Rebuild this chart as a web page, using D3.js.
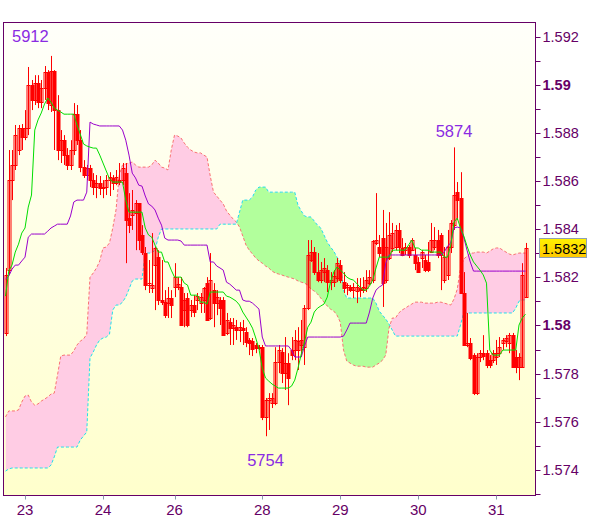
<!DOCTYPE html>
<html><head><meta charset="utf-8">
<script src="https://cdn.jsdelivr.net/npm/d3@7"></script>
<style>body{margin:0;background:#fff}svg{display:block}</style>
</head><body>
<svg id="c" width="600" height="519"></svg>
<script>
const dayLabels = ["23","24","26","28","29","30","31"];
const dayIndex = [6,30,52,79,103,127,151];
const priceTicks = [1.574,1.576,1.578,1.58,1.582,1.584,1.586,1.588,1.59,1.592];
const priceTickLabels = ["1.574","1.576","1.578","1.58","1.582","1.584","1.586","1.588","1.59","1.592"];
const boldTicks = ["1.58","1.59"];
const lastPrice = 1.5832;
const extremeLabels = ["5912","5874","5754"];

const openP = [1.57969,1.58230,1.58604,1.58667,1.58729,1.58820,1.58783,1.58820,1.58999,1.58937,
1.59007,1.58928,1.58986,1.59053,1.58916,1.59057,1.58895,1.58729,1.58770,1.58708,
1.58667,1.58729,1.58878,1.58770,1.58658,1.58625,1.58654,1.58604,1.58575,1.58592,
1.58571,1.58575,1.58604,1.58613,1.58592,1.58604,1.58604,1.58633,1.58446,1.58459,
1.58467,1.58509,1.58376,1.58301,1.58168,1.58156,1.58251,1.58284,1.58106,1.58097,
1.58093,1.58114,1.58160,1.58160,1.58160,1.58064,1.58114,1.58064,1.58085,1.58106,
1.58093,1.58106,1.58176,1.58031,1.58147,1.58093,1.58106,1.58106,1.57969,1.58014,
1.57989,1.57993,1.57981,1.57989,1.57973,1.57940,1.57935,1.57919,1.57906,1.57910,
1.57620,1.57690,1.57678,1.57678,1.57848,1.57890,1.57802,1.57844,1.57898,1.57898,
1.57898,1.57919,1.57910,1.58072,1.58272,1.58305,1.58222,1.58189,1.58222,1.58230,
1.58180,1.58180,1.58197,1.58251,1.58180,1.58160,1.58160,1.58147,1.58143,1.58156,
1.58147,1.58156,1.58176,1.58189,1.58343,1.58326,1.58363,1.58189,1.58280,1.58322,
1.58326,1.58397,1.58322,1.58313,1.58326,1.58313,1.58293,1.58264,1.58280,1.58272,
1.58264,1.58305,1.58326,1.58355,1.58376,1.58189,1.58210,1.58326,1.58417,1.58554,
1.58529,1.58135,1.57919,1.57927,1.57877,1.57719,1.57869,1.57885,1.57885,1.57856,
1.57856,1.57869,1.57885,1.57927,1.57935,1.57927,1.57960,1.57869,1.57827,1.57827,
1.58118];
const highP = [1.58239,1.58729,1.58729,1.58833,1.58833,1.58837,1.58895,1.59074,1.59020,1.59040,
1.59040,1.59020,1.59078,1.59061,1.59120,1.59061,1.58957,1.58812,1.58791,1.58737,
1.58770,1.58924,1.58916,1.58812,1.58687,1.58667,1.58667,1.58633,1.58625,1.58621,
1.58604,1.58625,1.58637,1.58625,1.58646,1.58675,1.58675,1.58675,1.58550,1.58563,
1.58521,1.58509,1.58417,1.58326,1.58272,1.58384,1.58326,1.58313,1.58272,1.58147,
1.58160,1.58147,1.58259,1.58201,1.58201,1.58135,1.58135,1.58106,1.58126,1.58135,
1.58135,1.58160,1.58201,1.58301,1.58176,1.58147,1.58118,1.58118,1.58052,1.58031,
1.58031,1.58023,1.58014,1.58023,1.57993,1.57948,1.57948,1.57927,1.57919,1.57919,
1.57699,1.57719,1.57719,1.57910,1.57919,1.57906,1.57952,1.57885,1.57952,1.57981,
1.57993,1.58023,1.58085,1.58355,1.58355,1.58326,1.58301,1.58264,1.58280,1.58251,
1.58222,1.58230,1.58280,1.58272,1.58222,1.58176,1.58168,1.58176,1.58197,1.58197,
1.58201,1.58230,1.58230,1.58355,1.58550,1.58376,1.58480,1.58426,1.58471,1.58426,
1.58417,1.58426,1.58363,1.58343,1.58334,1.58363,1.58322,1.58284,1.58313,1.58293,
1.58347,1.58426,1.58409,1.58397,1.58384,1.58326,1.58397,1.58438,1.58740,1.58596,
1.58637,1.58222,1.58052,1.57948,1.57885,1.57885,1.57898,1.57960,1.57898,1.57877,
1.57898,1.57940,1.57952,1.57948,1.57960,1.57969,1.57969,1.57898,1.57885,1.58259,
1.58343];
const lowP = [1.57956,1.58210,1.58521,1.58646,1.58708,1.58729,1.58770,1.58791,1.58895,1.58916,
1.58903,1.58903,1.58937,1.58895,1.58887,1.58729,1.58687,1.58675,1.58667,1.58646,
1.58646,1.58708,1.58750,1.58637,1.58613,1.58604,1.58575,1.58542,1.58529,1.58542,
1.58529,1.58542,1.58538,1.58563,1.58583,1.58583,1.58583,1.58259,1.58384,1.58397,
1.58313,1.58313,1.58293,1.58147,1.58135,1.58135,1.58064,1.58085,1.58085,1.58031,
1.58031,1.58031,1.58118,1.58147,1.57998,1.57993,1.57993,1.58035,1.58035,1.58064,
1.58052,1.58052,1.58023,1.58023,1.57993,1.58043,1.58002,1.57960,1.57960,1.57919,
1.57919,1.57940,1.57931,1.57919,1.57910,1.57877,1.57873,1.57885,1.57898,1.57607,
1.57540,1.57566,1.57657,1.57669,1.57802,1.57761,1.57732,1.57669,1.57856,1.57856,
1.57815,1.57869,1.57836,1.58064,1.58264,1.58210,1.58180,1.58176,1.58180,1.58139,
1.58147,1.58160,1.58180,1.58176,1.58135,1.58126,1.58139,1.58114,1.58093,1.58118,
1.58135,1.58139,1.58168,1.58176,1.58334,1.58284,1.58077,1.58176,1.58272,1.58305,
1.58313,1.58301,1.58288,1.58293,1.58280,1.58309,1.58230,1.58218,1.58239,1.58222,
1.58222,1.58301,1.58313,1.58280,1.58147,1.58176,1.58189,1.58301,1.58397,1.58438,
1.58135,1.57919,1.57910,1.57856,1.57711,1.57711,1.57848,1.57856,1.57823,1.57823,
1.57844,1.57836,1.57869,1.57898,1.57910,1.57885,1.57827,1.57802,1.57773,1.57827,
1.58114];
const closeP = [1.58210,1.58604,1.58667,1.58791,1.58820,1.58783,1.58820,1.58999,1.58937,1.59007,
1.58928,1.58986,1.59053,1.58924,1.59057,1.58895,1.58729,1.58770,1.58708,1.58667,
1.58729,1.58878,1.58770,1.58658,1.58625,1.58654,1.58604,1.58575,1.58592,1.58571,
1.58575,1.58604,1.58617,1.58592,1.58617,1.58596,1.58654,1.58438,1.58417,1.58480,
1.58509,1.58355,1.58305,1.58168,1.58176,1.58168,1.58322,1.58106,1.58097,1.58043,
1.58114,1.58085,1.58201,1.58172,1.58002,1.58106,1.58002,1.58085,1.58056,1.58122,
1.58118,1.58156,1.58023,1.58189,1.58093,1.58118,1.58072,1.57960,1.58023,1.57989,
1.58002,1.57981,1.57993,1.57981,1.57931,1.57927,1.57902,1.57906,1.57910,1.57620,
1.57690,1.57699,1.57699,1.57848,1.57898,1.57802,1.57844,1.57782,1.57877,1.57940,
1.57935,1.57940,1.58072,1.58293,1.58305,1.58222,1.58189,1.58230,1.58239,1.58180,
1.58189,1.58205,1.58259,1.58189,1.58156,1.58168,1.58147,1.58160,1.58160,1.58147,
1.58160,1.58189,1.58201,1.58351,1.58355,1.58301,1.58176,1.58326,1.58376,1.58384,
1.58397,1.58326,1.58293,1.58326,1.58293,1.58355,1.58259,1.58222,1.58305,1.58230,
1.58230,1.58355,1.58355,1.58293,1.58293,1.58284,1.58326,1.58426,1.58542,1.58521,
1.58135,1.57919,1.57927,1.57865,1.57719,1.57869,1.57885,1.57873,1.57836,1.57836,
1.57885,1.57885,1.57910,1.57940,1.57948,1.57960,1.57827,1.57827,1.57869,1.58210,
1.58320];
const tenkan = [1.58122,1.58226,1.58251,1.58305,1.58338,1.58384,1.58405,1.58492,1.58542,1.58812,
1.58854,1.58883,1.58920,1.58945,1.58928,1.58903,1.58895,1.58887,1.58878,1.58878,
1.58878,1.58878,1.58833,1.58795,1.58754,1.58746,1.58741,1.58737,1.58737,1.58708,
1.58675,1.58642,1.58609,1.58596,1.58596,1.58596,1.58596,1.58521,1.58471,1.58471,
1.58471,1.58471,1.58471,1.58405,1.58376,1.58367,1.58334,1.58305,1.58305,1.58264,
1.58264,1.58230,1.58201,1.58201,1.58201,1.58176,1.58168,1.58126,1.58126,1.58126,
1.58097,1.58097,1.58089,1.58139,1.58139,1.58139,1.58139,1.58139,1.58122,1.58118,
1.58110,1.58101,1.58085,1.58056,1.58035,1.58014,1.57989,1.57948,1.57902,1.57823,
1.57782,1.57769,1.57757,1.57748,1.57740,1.57740,1.57740,1.57740,1.57748,1.57773,
1.57823,1.57881,1.57931,1.57993,1.58014,1.58056,1.58072,1.58081,1.58089,1.58118,
1.58180,1.58222,1.58243,1.58230,1.58218,1.58201,1.58193,1.58189,1.58176,1.58160,
1.58147,1.58147,1.58164,1.58189,1.58239,1.58284,1.58284,1.58284,1.58284,1.58313,
1.58313,1.58313,1.58313,1.58313,1.58334,1.58355,1.58322,1.58322,1.58313,1.58313,
1.58313,1.58305,1.58305,1.58305,1.58305,1.58284,1.58284,1.58334,1.58430,1.58446,
1.58405,1.58372,1.58330,1.58293,1.58264,1.58247,1.58230,1.58210,1.58176,1.57898,
1.57877,1.57877,1.57877,1.57898,1.57898,1.57898,1.57898,1.57898,1.58002,1.58031,
1.58047];
const kijun = [1.58193,1.58205,1.58234,1.58251,1.58251,1.58268,1.58284,1.58367,1.58380,1.58380,
1.58380,1.58380,1.58380,1.58392,1.58405,1.58413,1.58421,1.58421,1.58421,1.58421,
1.58455,1.58513,1.58521,1.58521,1.58521,1.58554,1.58845,1.58837,1.58833,1.58829,
1.58829,1.58829,1.58829,1.58829,1.58829,1.58829,1.58812,1.58770,1.58708,1.58633,
1.58613,1.58583,1.58579,1.58538,1.58505,1.58496,1.58480,1.58446,1.58417,1.58363,
1.58355,1.58355,1.58355,1.58355,1.58351,1.58334,1.58334,1.58334,1.58334,1.58334,
1.58334,1.58334,1.58334,1.58264,1.58264,1.58247,1.58239,1.58230,1.58180,1.58172,
1.58160,1.58147,1.58147,1.58106,1.58101,1.58101,1.58093,1.58081,1.58068,1.57952,
1.57915,1.57915,1.57915,1.57915,1.57915,1.57915,1.57915,1.57915,1.57898,1.57869,
1.57869,1.57869,1.57915,1.57952,1.57952,1.57952,1.57952,1.57952,1.57952,1.57952,
1.57952,1.57952,1.57952,1.57952,1.57956,1.57981,1.58010,1.58010,1.58010,1.58010,
1.58010,1.58010,1.58056,1.58114,1.58147,1.58160,1.58168,1.58259,1.58293,1.58293,
1.58293,1.58293,1.58293,1.58293,1.58293,1.58293,1.58293,1.58293,1.58293,1.58293,
1.58293,1.58293,1.58293,1.58293,1.58293,1.58305,1.58330,1.58343,1.58405,1.58409,
1.58405,1.58367,1.58313,1.58264,1.58226,1.58226,1.58226,1.58226,1.58226,1.58226,
1.58226,1.58226,1.58226,1.58226,1.58226,1.58226,1.58226,1.58226,1.58226,1.58226,
1.58226];
const spanA = [1.57620,1.57645,1.57645,1.57645,1.57649,1.57682,1.57707,1.57711,1.57682,1.57669,
1.57674,1.57686,1.57694,1.57703,1.57715,1.57719,1.57794,1.57873,1.57877,1.57877,
1.57877,1.57894,1.57919,1.57935,1.57944,1.57964,1.58201,1.58218,1.58239,1.58268,
1.58322,1.58326,1.58343,1.58405,1.58480,1.58625,1.58667,1.58671,1.58675,1.58679,
1.58667,1.58658,1.58658,1.58658,1.58658,1.58667,1.58687,1.58675,1.58658,1.58654,
1.58646,1.58729,1.58791,1.58787,1.58779,1.58758,1.58741,1.58729,1.58721,1.58717,
1.58717,1.58708,1.58700,1.58621,1.58554,1.58538,1.58521,1.58505,1.58476,1.58459,
1.58443,1.58430,1.58409,1.58372,1.58334,1.58313,1.58297,1.58280,1.58268,1.58259,
1.58247,1.58239,1.58226,1.58218,1.58214,1.58210,1.58205,1.58201,1.58197,1.58193,
1.58185,1.58180,1.58176,1.58168,1.58151,1.58143,1.58131,1.58114,1.58097,1.58081,
1.58068,1.58060,1.58043,1.58014,1.57898,1.57852,1.57844,1.57836,1.57831,1.57831,
1.57831,1.57827,1.57827,1.57827,1.57836,1.57844,1.57856,1.57877,1.57989,1.58031,
1.58031,1.58052,1.58064,1.58072,1.58081,1.58089,1.58097,1.58097,1.58097,1.58093,
1.58093,1.58093,1.58093,1.58097,1.58097,1.58093,1.58089,1.58085,1.58110,1.58151,
1.58239,1.58276,1.58288,1.58301,1.58301,1.58305,1.58305,1.58305,1.58301,1.58309,
1.58318,1.58322,1.58322,1.58313,1.58305,1.58297,1.58293,1.58297,1.58301,1.58301,
1.58301];
const spanB = [1.57395,1.57404,1.57408,1.57408,1.57408,1.57408,1.57408,1.57408,1.57408,1.57408,
1.57408,1.57408,1.57408,1.57408,1.57420,1.57454,1.57495,1.57495,1.57495,1.57495,
1.57495,1.57495,1.57495,1.57524,1.57541,1.57557,1.57865,1.57890,1.57919,1.57940,
1.57948,1.57952,1.57964,1.58064,1.58085,1.58085,1.58097,1.58118,1.58151,1.58185,
1.58193,1.58193,1.58193,1.58301,1.58301,1.58301,1.58313,1.58367,1.58401,1.58401,
1.58401,1.58401,1.58401,1.58401,1.58401,1.58401,1.58401,1.58401,1.58401,1.58401,
1.58401,1.58401,1.58401,1.58401,1.58401,1.58401,1.58421,1.58421,1.58421,1.58421,
1.58421,1.58421,1.58471,1.58521,1.58521,1.58521,1.58534,1.58563,1.58575,1.58575,
1.58575,1.58554,1.58554,1.58554,1.58554,1.58554,1.58554,1.58554,1.58554,1.58554,
1.58500,1.58476,1.58455,1.58451,1.58451,1.58434,1.58417,1.58405,1.58376,1.58347,
1.58326,1.58309,1.58284,1.58264,1.58147,1.58114,1.58114,1.58114,1.58114,1.58114,
1.58114,1.58114,1.58114,1.58114,1.58093,1.58060,1.58043,1.58027,1.58006,1.57981,
1.57956,1.57956,1.57956,1.57956,1.57956,1.57956,1.57956,1.57956,1.57956,1.57956,
1.57956,1.57956,1.57956,1.57956,1.57956,1.57956,1.57956,1.57956,1.57956,1.57956,
1.58002,1.58052,1.58052,1.58052,1.58052,1.58052,1.58052,1.58052,1.58052,1.58052,
1.58052,1.58052,1.58052,1.58052,1.58052,1.58052,1.58052,1.58072,1.58101,1.58106,
1.58106];

const W = 600, H = 519;
const L = 3.5, R = 535.5, T = 22.5, B = 495.5;
const FONT = "'Liberation Sans', Arial, sans-serif";
const AXC = "#660066";
const n = openP.length;
const idx = d3.range(n);

const x = d3.scaleLinear().domain([0, n - 1]).range([5.5, 525.5]);
const y = d3.scaleLinear().domain([1.572958, 1.592609]).range([495, 22]);

const svg = d3.select("#c");
const defs = svg.append("defs");
const bg = defs.append("linearGradient").attr("id", "bg").attr("x1", 0).attr("y1", 0).attr("x2", 0).attr("y2", 1);
bg.append("stop").attr("offset", "0%").attr("stop-color", "#fffffa");
bg.append("stop").attr("offset", "100%").attr("stop-color", "#ffffcc");
const gold = defs.append("linearGradient").attr("id", "gold").attr("x1", 0).attr("y1", 0).attr("x2", 0).attr("y2", 1);
gold.append("stop").attr("offset", "0%").attr("stop-color", "#fff200");
gold.append("stop").attr("offset", "100%").attr("stop-color", "#ffc800");
defs.append("clipPath").attr("id", "plot").append("rect")
  .attr("x", L).attr("y", T).attr("width", R - L).attr("height", B - T);

const aboveB = d3.area().x(i => x(i)).y0(0).y1(i => y(spanB[i]));
const belowB = d3.area().x(i => x(i)).y0(H).y1(i => y(spanB[i]));
defs.append("clipPath").attr("id", "ab").append("path").attr("d", aboveB(idx));
defs.append("clipPath").attr("id", "bb").append("path").attr("d", belowB(idx));

svg.append("rect").attr("width", W).attr("height", H).attr("fill", "#fff");
svg.append("rect").attr("x", L).attr("y", T).attr("width", R - L).attr("height", B - T).attr("fill", "url(#bg)");

const plot = svg.append("g").attr("clip-path", "url(#plot)");

// cloud
const cloud = d3.area().x(i => x(i)).y0(i => y(spanB[i])).y1(i => y(spanA[i]));
plot.append("g").attr("clip-path", "url(#ab)").append("path").attr("d", cloud(idx)).attr("fill", "#ffcce4");
plot.append("g").attr("clip-path", "url(#bb)").append("path").attr("d", cloud(idx)).attr("fill", "#b2ff9c");
const lineOf = arr => d3.line().x(i => x(i)).y(i => y(arr[i]));
plot.append("path").attr("d", lineOf(spanA)(idx)).attr("fill", "none")
  .attr("stroke", "#f87272").attr("stroke-width", 1).attr("stroke-dasharray", "3,2");
plot.append("path").attr("d", lineOf(spanB)(idx)).attr("fill", "none")
  .attr("stroke", "#22ddee").attr("stroke-width", 1).attr("stroke-dasharray", "3,2");

// candles
const cg = plot.append("g");
idx.forEach(i => {
  const cx = Math.round(x(i)) + 0.5;
  cg.append("line").attr("x1", cx).attr("x2", cx)
    .attr("y1", y(highP[i])).attr("y2", y(lowP[i])).attr("stroke", "#ff0000").attr("stroke-width", 1);
  const top = y(Math.max(openP[i], closeP[i]));
  const bot = y(Math.min(openP[i], closeP[i]));
  const down = closeP[i] < openP[i];
  cg.append("rect").attr("x", cx - 1.5).attr("y", Math.round(top) + 0.5)
    .attr("width", 3).attr("height", Math.max(1, Math.round(bot - top)))
    .attr("fill", down ? "#ff0000" : "none").attr("stroke", "#ff0000").attr("stroke-width", 1);
});

// tenkan / kijun
plot.append("path").attr("d", lineOf(kijun)(idx)).attr("fill", "none").attr("stroke", "#9900cc").attr("stroke-width", 1);
plot.append("path").attr("d", lineOf(tenkan)(idx)).attr("fill", "none").attr("stroke", "#00dd00").attr("stroke-width", 1);

// frame
svg.append("rect").attr("x", L).attr("y", T).attr("width", R - L).attr("height", B - T)
  .attr("fill", "none").attr("stroke", AXC).attr("stroke-width", 1);

// right axis ticks
const minor = d3.range(1573, 1593).map(v => v / 1000);
svg.append("g").selectAll("line").data(minor).join("line")
  .attr("x1", R).attr("x2", R + 5)
  .attr("y1", d => Math.round(y(d)) + 0.5).attr("y2", d => Math.round(y(d)) + 0.5)
  .attr("stroke", AXC).attr("stroke-width", 1);
svg.append("g").selectAll("text").data(priceTicks).join("text")
  .attr("x", R + 7).attr("y", d => y(d) + 5)
  .attr("font-family", FONT).attr("font-size", 14.5)
  .attr("font-weight", (d, k) => boldTicks.includes(priceTickLabels[k]) ? "bold" : "normal")
  .attr("fill", AXC).text((d, k) => priceTickLabels[k]);

// x axis ticks
svg.append("g").selectAll("line").data(dayIndex).join("line")
  .attr("x1", d => Math.round(x(d)) + 0.5).attr("x2", d => Math.round(x(d)) + 0.5)
  .attr("y1", B).attr("y2", B + 4).attr("stroke", "#8899aa").attr("stroke-width", 1);
svg.append("g").selectAll("text").data(dayIndex).join("text")
  .attr("x", d => x(d)).attr("y", 515).attr("text-anchor", "middle")
  .attr("font-family", FONT).attr("font-size", 15).attr("fill", AXC)
  .text((d, k) => dayLabels[k]);

// last price box
const ly = y(lastPrice);
svg.append("rect").attr("x", 539.5).attr("y", Math.round(ly) - 9.5).attr("width", 47).attr("height", 19)
  .attr("fill", "url(#gold)").attr("stroke", "#8fa0b4").attr("stroke-width", 1);
svg.append("text").attr("x", 542).attr("y", ly + 5.5)
  .attr("font-family", FONT).attr("font-size", 14.5).attr("fill", "#000").text(lastPrice.toFixed(4));

// extreme labels
const loIdx = d3.minIndex(lowP);
const lab = svg.append("g").attr("font-family", FONT).attr("font-size", 16.5).attr("fill", "#8a2be2");
lab.append("text").attr("x", 12).attr("y", 42).text(extremeLabels[0]);
lab.append("text").attr("x", x(138)).attr("y", y(highP[138]) - 10).attr("text-anchor", "middle").text(extremeLabels[1]);
lab.append("text").attr("x", x(loIdx)).attr("y", y(lowP[loIdx]) + 30).attr("text-anchor", "middle").text(extremeLabels[2]);
</script>
</body></html>
